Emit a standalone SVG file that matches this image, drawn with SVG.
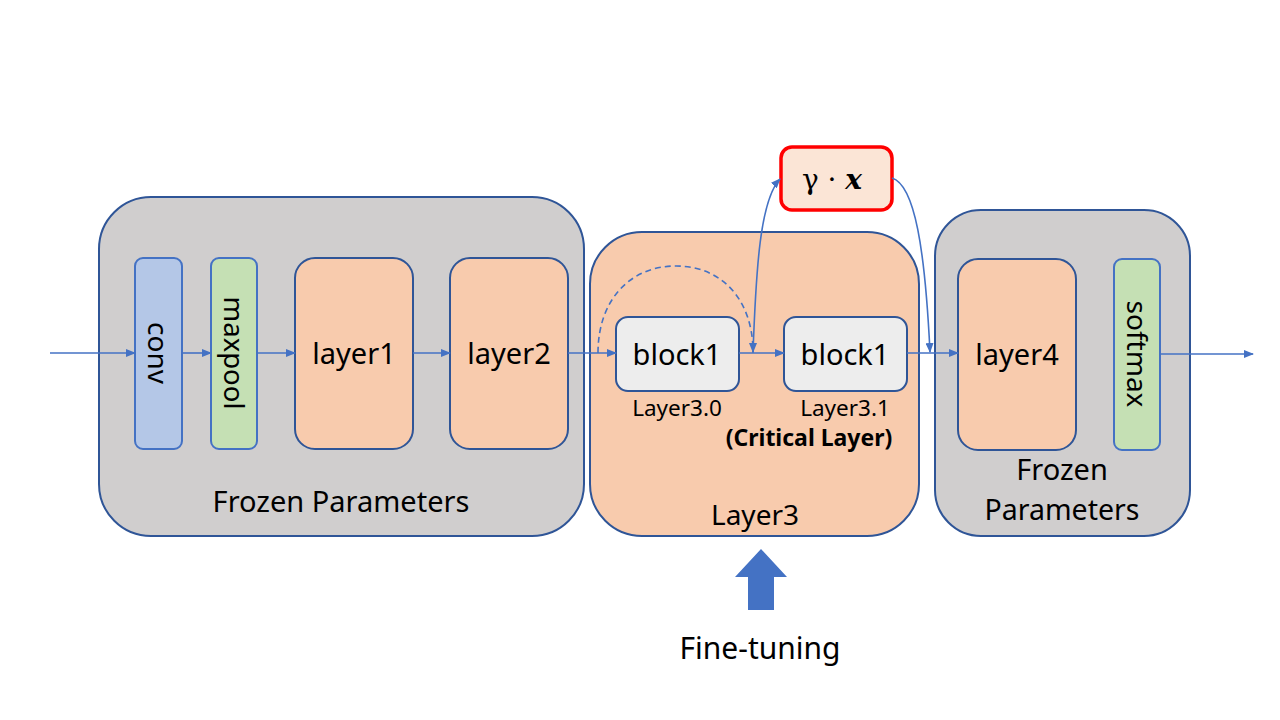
<svg xmlns="http://www.w3.org/2000/svg" width="1280" height="720" viewBox="0 0 1280 720">
<defs>
<marker id="ah" markerWidth="10" markerHeight="8" refX="9" refY="4" orient="auto" markerUnits="userSpaceOnUse">
<path d="M0,0 L10,4 L0,8 Z" fill="#4472C4"/>
</marker>
<style>
.cont{stroke:#2F5597;stroke-width:2}
.gray{fill:#D0CECE}
.peach{fill:#F8CBAD}
.thin{stroke:#4472C4;stroke-width:2}
.dark{stroke:#2F5597;stroke-width:2}
.t{font-family:"Noto Sans","Open Sans",sans-serif;fill:#000;text-anchor:middle}
.c{fill:none;stroke:#4472C4;stroke-width:1.6}
</style>
</defs>
<rect width="1280" height="720" fill="#fff"/>
<g id="frozen-left"><rect x="99" y="197" width="485" height="339" rx="52" class="cont gray"/>
<text class="t" x="341" y="512" font-size="29">Frozen Parameters</text></g>
<g id="layer3"><rect x="590" y="232" width="329" height="304" rx="52" class="cont peach"/>
<text class="t" x="755" y="525" font-size="28">Layer3</text></g>
<g id="frozen-right"><rect x="935" y="210" width="255" height="326" rx="46" class="cont gray"/>
<text class="t" x="1062" y="480" font-size="29">Frozen</text>
<text class="t" x="1062" y="520" font-size="28.5">Parameters</text></g>
<g id="conv"><rect x="135" y="258" width="47" height="191" rx="8" fill="#B4C7E7" class="thin"/>
<text class="t" x="0" y="0" font-size="28" transform="translate(148,353) rotate(90)">conv</text></g>
<g id="maxpool"><rect x="211" y="258" width="46" height="191" rx="8" fill="#C5E0B4" class="thin"/>
<text class="t" x="0" y="0" font-size="27.5" transform="translate(224,353) rotate(90)">maxpool</text></g>
<g id="layer1"><rect x="295" y="258" width="118" height="191" rx="20" class="peach dark"/>
<text class="t" x="354" y="364" font-size="29">layer1</text></g>
<g id="layer2"><rect x="450" y="258" width="118" height="191" rx="20" class="peach dark"/>
<text class="t" x="509" y="364" font-size="29">layer2</text></g>
<g id="block1a"><rect x="616" y="317" width="123" height="74" rx="12" fill="#EDEDED" class="dark"/>
<text class="t" x="677" y="365" font-size="29">block1</text>
<text class="t" x="677" y="416" font-size="22.5">Layer3.0</text></g>
<g id="block1b"><rect x="784" y="317" width="123" height="74" rx="12" fill="#EDEDED" class="dark"/>
<text class="t" x="845" y="365" font-size="29">block1</text>
<text class="t" x="845" y="416" font-size="22.5">Layer3.1</text>
<text class="t" x="809" y="446" font-size="23" font-weight="bold">(Critical Layer)</text></g>
<g id="gamma"><rect x="781" y="147" width="111" height="63" rx="11" fill="#FBE5D6" stroke="#FF0000" stroke-width="3.5"/>
<text x="832" y="189" font-size="28" text-anchor="middle" font-family="'DejaVu Serif','Liberation Serif',serif">γ · <tspan font-weight="bold" font-style="italic">x</tspan></text></g>
<g id="layer4"><rect x="958" y="259" width="118" height="191" rx="20" class="peach dark"/>
<text class="t" x="1017" y="365" font-size="29">layer4</text></g>
<g id="softmax"><rect x="1114" y="259" width="46" height="191" rx="8" fill="#C5E0B4" class="thin"/>
<text class="t" x="0" y="0" font-size="28" transform="translate(1127,354) rotate(90)">softmax</text></g>
<g id="finetune"><polygon points="761,549 787,577 774,577 774,610 748,610 748,577 735,577" fill="#4472C4"/>
<text class="t" x="760" y="659" font-size="30">Fine-tuning</text></g>
<g id="connectors">
<line x1="50" y1="353" x2="135" y2="353" class="c" marker-end="url(#ah)"/>
<line x1="182" y1="353" x2="211" y2="353" class="c" marker-end="url(#ah)"/>
<line x1="257" y1="353" x2="295" y2="353" class="c" marker-end="url(#ah)"/>
<line x1="413" y1="353" x2="450" y2="353" class="c" marker-end="url(#ah)"/>
<line x1="568" y1="353" x2="616" y2="353" class="c" marker-end="url(#ah)"/>
<line x1="739" y1="353" x2="784" y2="353" class="c" marker-end="url(#ah)"/>
<line x1="907" y1="353" x2="958" y2="353" class="c" marker-end="url(#ah)"/>
<line x1="1160" y1="354" x2="1253" y2="354" class="c" marker-end="url(#ah)"/>
<path d="M598,353 C598,300 630,266 676,266 C722,266 753,300 753,352" class="c" stroke-dasharray="6,4" marker-end="url(#ah)"/>
<path d="M753,353 C756,270 760,200 780,179" class="c" marker-end="url(#ah)"/>
<path d="M892,178 C915,185 925,250 930,352" class="c" marker-end="url(#ah)"/>
</g>
</svg>
